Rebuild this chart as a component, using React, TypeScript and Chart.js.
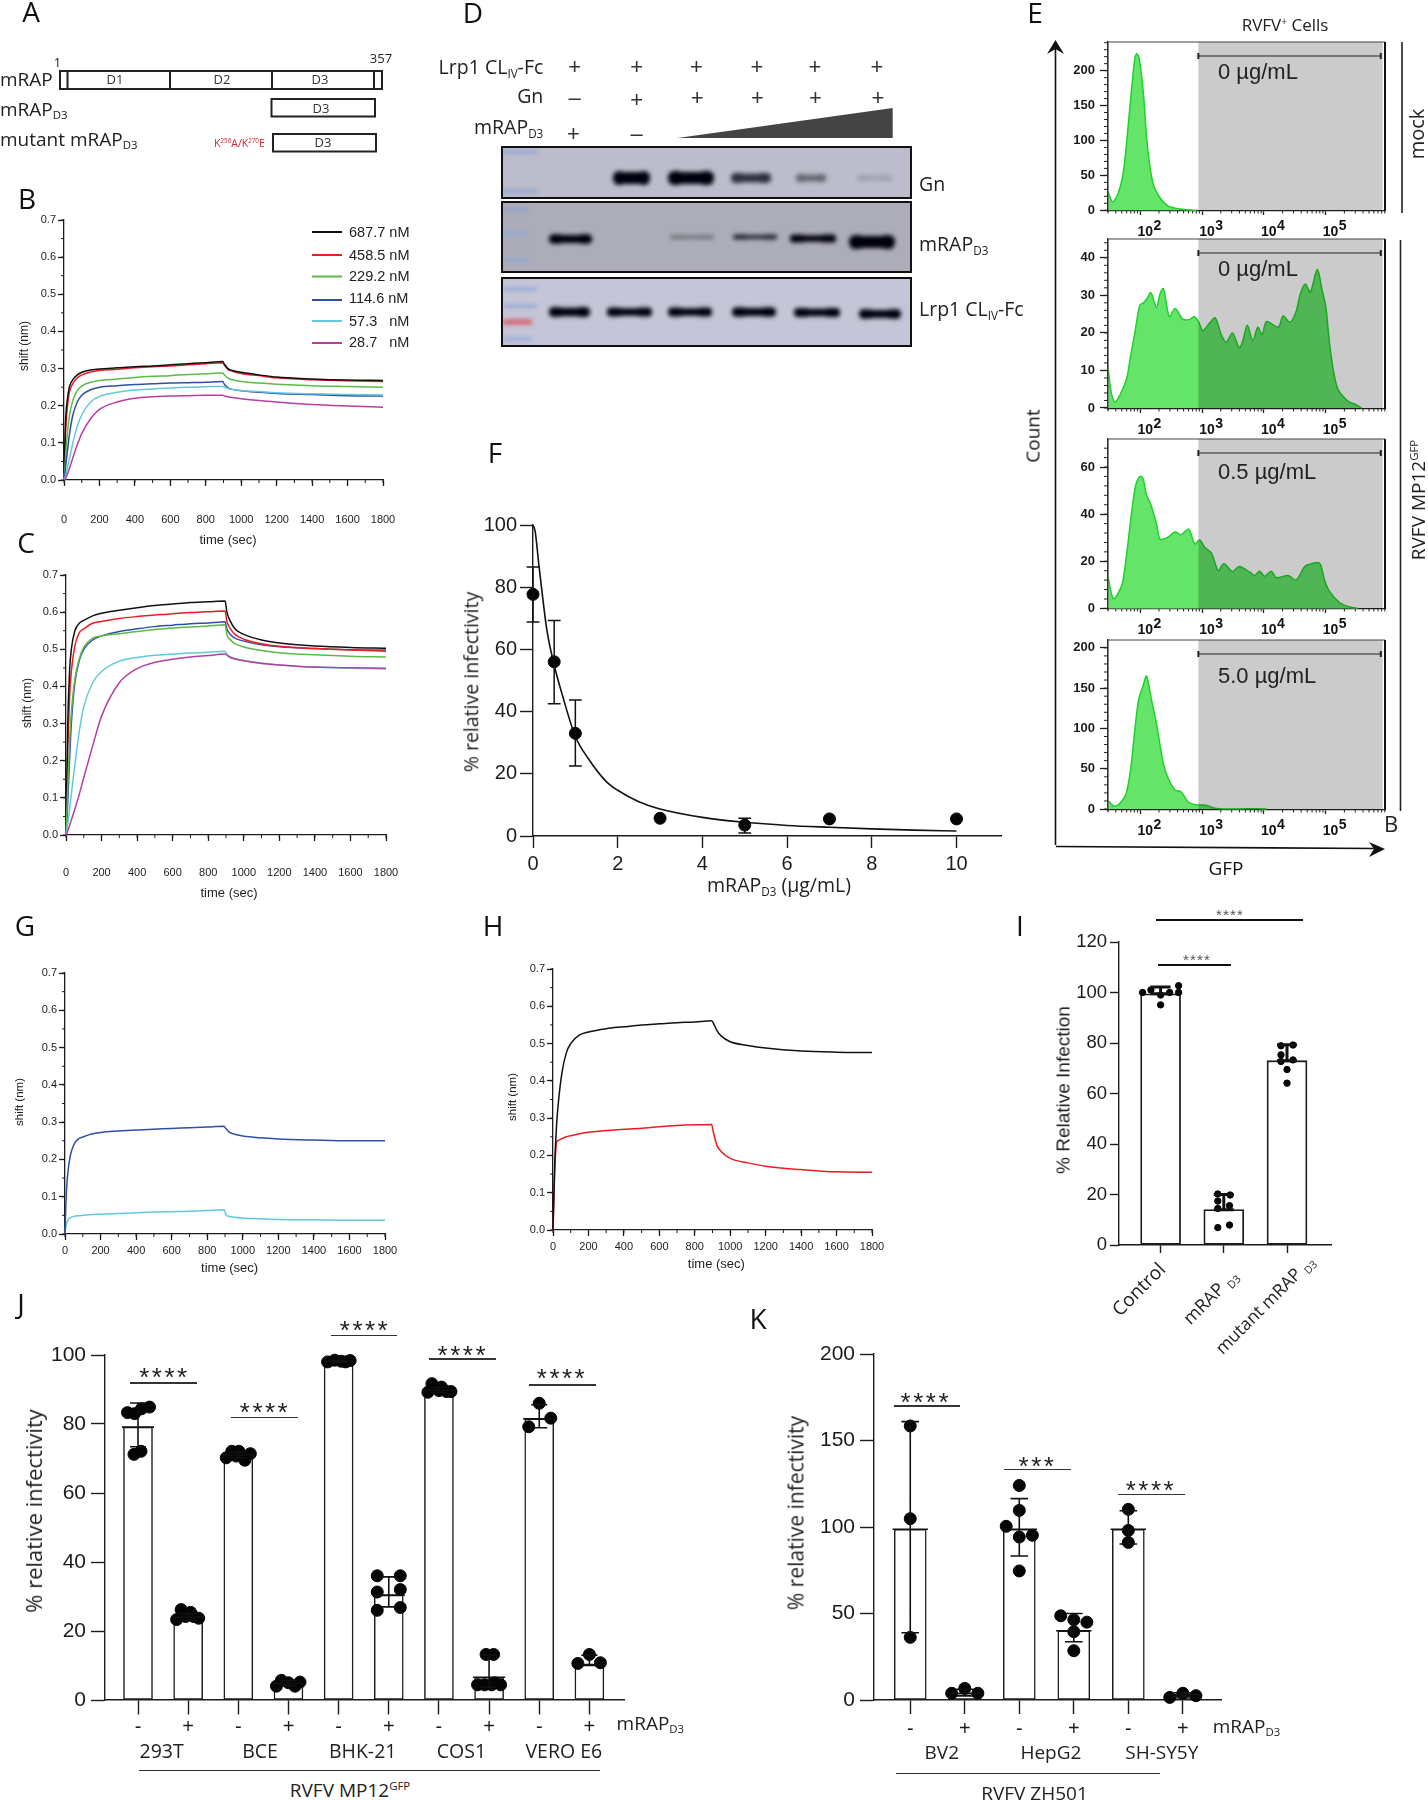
import React, { useEffect, useRef } from "react";
import { Chart, registerables } from "chart.js";

Chart.register(...registerables);

// ---------- DATA ----------
const bliTime = [0, 5, 10, 20, 30, 50, 75, 100, 150, 200, 300, 400, 500, 600, 700, 800, 895, 905, 925, 950, 1000, 1100, 1200, 1400, 1600, 1800];
const bliTicks = [0, 200, 400, 600, 800, 1000, 1200, 1400, 1600, 1800];

const bBlack = [0, .10, .17, .22, .25, .27, .283, .29, .296, .299, .302, .305, .307, .310, .313, .316, .319, .312, .30, .295, .290, .283, .277, .272, .269, .268];
const bRed = [0, .07, .14, .20, .235, .26, .275, .283, .291, .295, .298, .302, .305, .307, .31, .313, .316, .309, .298, .293, .287, .281, .275, .27, .267, .265];
const bGreen = [0, .03, .07, .13, .17, .215, .24, .253, .263, .268, .272, .276, .279, .281, .284, .286, .288, .283, .274, .27, .265, .261, .258, .254, .252, .25];
const bBlue = [0, .015, .04, .08, .12, .175, .21, .228, .243, .25, .254, .257, .259, .261, .262, .263, .265, .258, .248, .244, .24, .236, .233, .23, .227, .226];
const bCyan = [0, .006, .012, .035, .055, .10, .145, .175, .21, .225, .236, .242, .245, .248, .25, .251, .252, .25, .246, .244, .241, .238, .235, .232, .23, .229];
const bMagenta = [0, .001, .005, .017, .03, .06, .095, .125, .165, .19, .21, .22, .224, .226, .227, .228, .228, .226, .224, .222, .219, .214, .21, .203, .199, .196];

const cBlack = [0, .15, .30, .44, .50, .55, .57, .578, .59, .597, .605, .612, .618, .622, .626, .628, .63, .60, .575, .555, .54, .525, .517, .509, .505, .503];
const cRed = [0, .10, .22, .37, .44, .51, .545, .555, .57, .575, .583, .588, .592, .596, .599, .601, .603, .575, .555, .54, .527, .515, .508, .502, .498, .495];
const cBlue = [0, .03, .09, .20, .30, .41, .47, .50, .525, .536, .548, .555, .561, .565, .569, .571, .574, .555, .54, .53, .522, .512, .507, .502, .499, .498];
const cGreen = [0, .06, .13, .25, .33, .42, .475, .505, .53, .536, .542, .548, .553, .557, .56, .563, .566, .54, .525, .515, .506, .497, .491, .485, .481, .479];
const cCyan = [0, .01, .03, .07, .11, .19, .28, .345, .41, .44, .468, .478, .484, .487, .49, .492, .495, .487, .48, .475, .47, .463, .458, .452, .449, .447];
const cMagenta = [0, .005, .012, .025, .04, .07, .11, .155, .24, .32, .41, .448, .465, .473, .479, .483, .487, .484, .478, .474, .469, .462, .458, .452, .45, .449];

const gBlue = [0, .08, .13, .18, .21, .24, .255, .26, .268, .272, .276, .279, .281, .283, .285, .287, .289, .283, .273, .268, .263, .258, .255, .252, .25, .25];
const gCyan = [0, .02, .03, .04, .044, .047, .049, .05, .052, .053, .055, .057, .059, .06, .061, .063, .065, .052, .047, .045, .043, .041, .039, .038, .037, .037];
const hBlack = [0, .10, .18, .28, .34, .42, .475, .50, .523, .531, .54, .545, .55, .553, .556, .558, .561, .555, .535, .52, .505, .495, .488, .48, .477, .476];
const hRed = [0, .08, .16, .235, .24, .245, .25, .253, .258, .262, .267, .27, .273, .277, .28, .282, .283, .262, .227, .21, .192, .18, .171, .162, .156, .155];

const legendLabels = ["687.7 nM", "458.5 nM", "229.2 nM", "114.6 nM", "57.3   nM", "28.7   nM"];

const fDose = [0, 0.5, 1, 3, 5, 7, 10];
const fMean = [77.7, 56, 33, 5.7, 3.5, 5.5, 5.5];
const fLow = [68.8, 42.5, 22.5, 5.7, 1, 5.5, 5.5];
const fHigh = [86.5, 69.3, 43.7, 5.7, 5.7, 5.5, 5.5];
const fCurveX = [0, 0.05, 0.14, 0.2, 0.33, 0.5, 0.7, 1, 1.3, 1.73, 2, 2.5, 3, 4, 5, 6, 7, 8, 9, 10];
const fCurveY = [100, 98, 87, 80, 66, 55, 45, 32, 25, 17.5, 14.7, 11, 8.7, 6, 4.4, 3.4, 2.8, 2.3, 1.9, 1.6];

const e1Log = [1.48, 1.55, 1.64, 1.72, 1.78, 1.84, 1.91, 1.94, 1.98, 2.05, 2.11, 2.2, 2.31, 2.45, 2.64, 2.91];
const e1Count = [26, 12, 24, 52, 100, 157, 218, 224, 218, 166, 95, 40, 19, 6, 2, 0];
const e2Log = [1.48, 1.53, 1.59, 1.67, 1.78, 1.84, 1.91, 1.99, 2.05, 2.11, 2.17, 2.26, 2.32, 2.37, 2.41, 2.47, 2.56, 2.69, 2.8, 2.87, 2.94, 3.01, 3.12, 3.21, 3.31, 3.39, 3.49, 3.6, 3.66, 3.73, 3.82, 3.9, 3.97, 4.04, 4.23, 4.31, 4.42, 4.52, 4.59, 4.67, 4.75, 4.86, 4.94, 5, 5.06, 5.13, 5.2, 5.36, 5.47, 5.58];
const e2Count = [10.2, 4, 1.6, 3.5, 8, 13.7, 20, 27.4, 28, 29.2, 30.7, 26.8, 30.5, 31.8, 28.8, 24.3, 26.5, 23.6, 23.6, 24.3, 23, 20.6, 22.6, 24, 19.5, 17.5, 20, 16, 18, 22, 17.9, 21.5, 19.5, 23, 21.5, 24.5, 22.8, 25.7, 30.5, 33, 30.8, 36.9, 31.4, 27, 17.3, 9.3, 4.9, 1.8, 1, 0];
const e3Log = [1.48, 1.53, 1.57, 1.67, 1.72, 1.78, 1.85, 1.92, 1.99, 2.04, 2.1, 2.16, 2.26, 2.32, 2.45, 2.56, 2.66, 2.78, 2.88, 2.96, 3.04, 3.15, 3.26, 3.35, 3.49, 3.6, 3.77, 3.85, 3.93, 4.01, 4.12, 4.2, 4.39, 4.52, 4.66, 4.77, 4.9, 4.98, 5.06, 5.23, 5.39, 5.52];
const e3Count = [12.9, 6.5, 4, 8, 12, 23.5, 39, 51.8, 56, 55.3, 48, 44.7, 36, 29.4, 30.3, 32.4, 31.3, 33.7, 27.4, 29, 26, 23.5, 16, 19, 15.7, 17.8, 15.4, 14, 15.8, 13.6, 15.8, 13, 14, 12, 17.8, 19, 19.2, 12, 7.2, 2.3, 0.6, 0];
const e4Log = [1.48, 1.57, 1.67, 1.77, 1.84, 1.91, 1.97, 2.04, 2.1, 2.18, 2.26, 2.37, 2.45, 2.56, 2.66, 2.77, 2.91, 3.04, 3.23, 3.55, 3.88, 4.04];
const e4Count = [10.3, 3.7, 7, 19.4, 48, 98, 135, 152, 165, 135, 106, 57, 38, 23.6, 21.5, 9, 5, 5, 0.8, 0, 0.4, 0];

const iMean = [99.5, 14, 73];
const iHigh = [102.2, 20, 79.3];
const iPointX = [-.285, -.153, 0, .143, .285, .285, 0, .905, 1.1, .905, 1.09, .905, 1.09, .905, 1.905, 2.095, 1.905, 1.905, 2.095, 2, 2];
const iPointY = [100, 101, 99, 100, 102.7, 100, 95.1, 20.2, 19.8, 17.4, 15.6, 14.5, 7.9, 6.9, 78.9, 79.2, 75.3, 72.7, 73.3, 69.5, 64.1];

const jTreatments = ["-", "+", "-", "+", "-", "+", "-", "+", "-", "+"];
const jCells = ["293T", "BCE", "BHK-21", "COS1", "VERO E6"];
const jMean = [79.1, 24, 71, 4.8, 98.2, 30.4, 89.8, 6.6, 81.5, 10.3];
const jLow = [73.4, 23.2, 70.2, 4.1, 97.9, 27, 89.2, 3.7, 78.9, 10];
const jHigh = [86.1, 25, 71.9, 5.6, 98.5, 35.7, 90.6, 13, 85.6, 13];
const jPointX = [-.21, -.07, .07, .23, -.08, .06, .77, .86, 1.05, .95, 1.11, 1.21, 1.76, 1.87, 2.01, 2.13, 2.24, 1.96, 2.76, 2.86, 3, 3.13, 3.23, 3.78, 3.92, 4.05, 4.14, 4.23, 4.77, 4.77, 4.77, 5.23, 5.23, 5.23, 5.78, 5.86, 6, 6.05, 6.15, 6.24, 6.94, 7.09, 6.77, 6.91, 7.05, 7.23, 7.11, 8, 8.23, 7.79, 9, 8.77, 9.22];
const jPointY = [83.3, 83, 84.4, 84.9, 71.2, 72.1, 23.3, 26.2, 25.4, 24.2, 24.2, 23.7, 70.2, 72.1, 72.1, 69.5, 71.4, 70.7, 4, 5.7, 5, 4, 5.2, 98, 98.5, 98.2, 98, 98.4, 36, 31.3, 26, 36, 32, 26.8, 89.2, 91.7, 89.7, 90.7, 89.4, 89.4, 13.2, 13.2, 4.4, 4.4, 4.4, 4.4, 5, 86, 81.7, 79.2, 13.2, 10.6, 10.8];

const kTreatments = ["-", "+", "-", "+", "-", "+"];
const kCells = ["BV2", "HepG2", "SH-SY5Y"];
const kMean = [98.7, 3.9, 98.7, 40, 98.7, 3];
const kLow = [38.9, 2.4, 83.2, 33.7, 90.2, 1.8];
const kHigh = [160.9, 6.2, 116.4, 50, 109.4, 4.2];
const kPointX = [0, 0, 0, .76, 1, 1.24, 2, 2, 1.76, 2, 2.24, 2, 2.76, 3, 3.24, 3, 3, 4, 4, 4, 4.76, 5, 5.24];
const kPointY = [158.4, 104.8, 36.2, 3.9, 6.7, 3.9, 124, 109.6, 100.4, 94.2, 95.2, 74.6, 48.7, 46.4, 45, 39.5, 28.5, 110.2, 98, 91.1, 1.5, 3.9, 2.5];

// ---------- helpers ----------
const ARIAL = "'Liberation Sans', Arial, sans-serif";
const OPEN = "'Open Sans', sans-serif";
const INK = "#1c1c1c";
const M = { l: 80, t: 25, r: 42, b: 72 };
const BLI_COLORS = { black: "#111111", red: "#ed1c24", green: "#5cba47", blue: "#2f4fa5", cyan: "#63c8de", magenta: "#b83e9f" };

type Rect = [number, number, number, number];

function axis(o: any) {
  return {
    type: "linear", min: o.min, max: o.max, offset: false,
    grid: { display: true, offset: false, drawOnChartArea: false, drawTicks: true, tickLength: o.tick, tickColor: o.color || INK, tickWidth: o.width || 1.3 },
    border: { display: true, color: o.color || INK, width: o.width || 1.3 },
    ticks: {
      autoSkip: false, maxRotation: 0, minRotation: 0, includeBounds: false,
      stepSize: o.step, padding: o.padding, color: o.textColor || INK,
      font: { family: o.family || ARIAL, size: o.size, weight: o.weight || "normal" },
      callback: o.callback,
    },
    afterBuildTicks: o.values ? (s: any) => { s.ticks = o.values.map((v: number) => ({ value: v })); } : undefined,
  };
}

function minorTicks(xStep: number, yStep: number, len: number) {
  return {
    id: "minorTicks",
    afterDatasetsDraw(c: any) {
      const { ctx, scales: { x, y }, chartArea: a } = c;
      ctx.save();
      ctx.strokeStyle = INK; ctx.lineWidth = 1; ctx.beginPath();
      for (let v = x.min; v <= x.max + 1e-6; v += xStep) { const p = x.getPixelForValue(v); ctx.moveTo(p, a.bottom); ctx.lineTo(p, a.bottom + len); }
      for (let v = y.min; v <= y.max + 1e-6; v += yStep) { const p = y.getPixelForValue(v); ctx.moveTo(a.left, p); ctx.lineTo(a.left - len, p); }
      ctx.stroke(); ctx.restore();
    },
  };
}

function errorBars(xs: number[], lows: number[], highs: number[], means: number[] | null, cap: number, meanHalf: number, width: number) {
  return {
    id: "errorBars",
    afterDatasetsDraw(c: any) {
      const { ctx, scales: { x, y } } = c;
      ctx.save(); ctx.strokeStyle = "#111"; ctx.lineWidth = width; ctx.beginPath();
      xs.forEach((xv, i) => {
        if (lows[i] === highs[i]) return;
        const px = x.getPixelForValue(xv), lo = y.getPixelForValue(lows[i]), hi = y.getPixelForValue(highs[i]);
        ctx.moveTo(px, lo); ctx.lineTo(px, hi);
        ctx.moveTo(px - cap, lo); ctx.lineTo(px + cap, lo);
        ctx.moveTo(px - cap, hi); ctx.lineTo(px + cap, hi);
        if (means && meanHalf) { const m = y.getPixelForValue(means[i]); ctx.moveTo(px - meanHalf, m); ctx.lineTo(px + meanHalf, m); }
      });
      ctx.stroke(); ctx.restore();
    },
  };
}

const GATE_LEFT = 2.938, GATE_RIGHT = 5.92, GATE_END = 5.89;
function flowPlugin(minorStep: number) {
  return {
    id: "flow",
    afterDatasetsDraw(c: any) {
      const { ctx, scales: { x, y }, chartArea: a } = c;
      ctx.save();
      const g1 = x.getPixelForValue(GATE_LEFT), g2 = x.getPixelForValue(GATE_RIGHT), g3 = x.getPixelForValue(GATE_END);
      ctx.globalCompositeOperation = "multiply";
      ctx.fillStyle = "#cbcbcb";
      ctx.fillRect(g1, a.top, g2 - g1, a.bottom - a.top);
      ctx.globalCompositeOperation = "source-over";
      ctx.strokeStyle = "#444"; ctx.lineWidth = 1;
      ctx.beginPath(); ctx.moveTo(a.left, a.top); ctx.lineTo(a.right, a.top); ctx.moveTo(a.left, a.top); ctx.lineTo(a.left, a.bottom); ctx.stroke();
      ctx.strokeStyle = "#111"; ctx.lineWidth = 2;
      ctx.beginPath(); ctx.moveTo(a.right, a.top); ctx.lineTo(a.right, a.bottom); ctx.stroke();
      const gy = a.top + 14;
      ctx.strokeStyle = "#222"; ctx.lineWidth = 1.2; ctx.beginPath();
      ctx.moveTo(g1, gy); ctx.lineTo(g3, gy); ctx.stroke();
      ctx.lineWidth = 2; ctx.beginPath();
      ctx.moveTo(g1, gy - 3); ctx.lineTo(g1, gy + 3); ctx.moveTo(g3, gy - 3); ctx.lineTo(g3, gy + 3); ctx.stroke();
      ctx.strokeStyle = "#222"; ctx.lineWidth = 1; ctx.beginPath();
      for (let v = 0; v <= y.max; v += minorStep) { const p = y.getPixelForValue(v); ctx.moveTo(a.left, p); ctx.lineTo(a.left - 4, p); }
      for (let d = 1; d <= 5; d++) for (let m = 2; m <= 9; m++) {
        const v = d + Math.log10(m);
        if (v < x.min || v > x.max) continue;
        const p = x.getPixelForValue(v); ctx.moveTo(p, a.bottom); ctx.lineTo(p, a.bottom + 2.5);
      }
      ctx.stroke();
      ctx.fillStyle = "#111"; ctx.textAlign = "left"; ctx.textBaseline = "alphabetic";
      ctx.font = `bold 14px ${ARIAL}`;
      [2, 3, 4, 5].forEach((d) => {
        const p = x.getPixelForValue(d);
        ctx.fillText("10", p - 3, a.bottom + 25);
        ctx.fillText(String(d), p + 13, a.bottom + 19);
      });
      ctx.restore();
    },
  };
}

function bliConfig(series: [number[], string][], xPad: number, size = 11) {
  return {
    type: "line",
    data: { datasets: series.map(([vals, col]) => ({ data: bliTime.map((t, i) => ({ x: t, y: vals[i] })), borderColor: col, borderWidth: 1.5, pointRadius: 0, cubicInterpolationMode: "monotone", clip: false })) },
    options: {
      scales: {
        x: axis({ min: 0, max: 1800, tick: 6, padding: xPad, size, values: bliTicks, callback: (v: number) => String(v) }),
        y: axis({ min: 0, max: 0.7, step: 0.1, tick: 6, padding: 2, size, callback: (v: number) => v.toFixed(1) }),
      },
    },
    plugins: [minorTicks(100, 0.05, 3)],
  };
}

function flowConfig(lx: number[], ly: number[], yMin: number, yMax: number, step: number, minor: number) {
  return {
    type: "line",
    data: { datasets: [{ data: lx.map((v, i) => ({ x: v, y: ly[i] })), borderColor: "#1fd22a", borderWidth: 1.5, backgroundColor: "#64e56a", fill: "origin", pointRadius: 0, tension: 0.3 }] },
    options: {
      scales: {
        x: axis({ min: 1.476, max: 5.958, step: 1, tick: 4, padding: 2, size: 10, color: "#222", callback: () => "" }),
        y: axis({ min: yMin, max: yMax, step, tick: 8, padding: 5, size: 13, weight: "bold", color: "#222", callback: (v: number) => String(v) }),
      },
    },
    plugins: [flowPlugin(minor)],
  };
}

function barConfig(o: any) {
  return {
    type: "bar",
    data: {
      datasets: [
        { type: "scatter", order: 0, data: o.px.map((v: number, i: number) => ({ x: v, y: o.py[i] })), backgroundColor: "#050505", borderColor: "#050505", pointRadius: o.r, clip: false },
        { type: "bar", order: 1, data: o.means.map((v: number, i: number) => ({ x: i, y: v })), backgroundColor: "#ffffff", borderColor: "#1c1c1c", borderWidth: o.bw, barThickness: o.barW, borderSkipped: false },
      ],
    },
    options: {
      scales: {
        x: axis({ min: o.xMin, max: o.xMax, tick: o.xTick, padding: o.xPad, size: o.labelSize, family: ARIAL, values: o.means.map((_: number, i: number) => i), width: o.axisW, callback: (_: number, i: number) => (o.labels ? o.labels[i] : "") }),
        y: axis({ min: 0, max: o.yMax, step: o.step, tick: o.yTick, padding: o.yPad, size: o.size, width: o.axisW, callback: (v: number) => String(v) }),
      },
    },
    plugins: [errorBars(o.means.map((_: number, i: number) => i), o.low, o.high, o.meanHalf ? o.means : null, o.cap, o.meanHalf, o.errW)],
  };
}

function fConfig() {
  return {
    type: "scatter",
    data: {
      datasets: [
        { type: "scatter", order: 0, data: fDose.map((v, i) => ({ x: v, y: fMean[i] })), backgroundColor: "#050505", borderColor: "#050505", pointRadius: 6, clip: false },
        { type: "line", order: 1, data: fCurveX.map((v, i) => ({ x: v, y: fCurveY[i] })), borderColor: "#111", borderWidth: 1.6, pointRadius: 0, cubicInterpolationMode: "monotone", clip: false },
      ],
    },
    options: {
      scales: {
        x: axis({ min: 0, max: 11.05, step: 2, tick: 12, padding: 4, size: 20, width: 1.4, callback: (v: number) => String(v) }),
        y: axis({ min: 0, max: 100, step: 20, tick: 13, padding: 3, size: 20, width: 1.4, callback: (v: number) => String(v) }),
      },
    },
    plugins: [errorBars(fDose, fLow, fHigh, null, 6.4, 0, 1.5)],
  };
}

function Plot({ rect, make }: { rect: Rect; make: () => any }) {
  const ref = useRef<HTMLCanvasElement>(null);
  const [l, t, r, b] = rect.map(Math.round);
  const w = r - l + M.l + M.r, h = b - t + M.t + M.b;
  useEffect(() => {
    const cfg = make();
    cfg.options.responsive = false;
    cfg.options.maintainAspectRatio = false;
    cfg.options.animation = false;
    cfg.options.devicePixelRatio = 1;
    cfg.options.layout = { padding: { left: 0, top: M.t, right: M.r, bottom: 0 } };
    cfg.options.plugins = { legend: { display: false }, tooltip: { enabled: false }, title: { display: false } };
    cfg.options.scales.x.afterFit = (s: any) => { s.height = M.b; };
    cfg.options.scales.y.afterFit = (s: any) => { s.width = M.l; };
    const chart = new Chart(ref.current as any, cfg);
    return () => chart.destroy();
  }, []);
  return <canvas ref={ref} width={w} height={h} style={{ position: "absolute", left: l - M.l, top: t - M.t, width: w, height: h, display: "block" }} />;
}

function Lab({ x, y, s = 18, a = "l", rot = 0, c = "#222", f = OPEN, w = 400, ls = 0, children }: any) {
  const tx = a === "l" ? "0" : a === "r" ? "-100%" : "-50%";
  const origin = a === "l" ? "0 50%" : a === "r" ? "100% 50%" : "50% 50%";
  return (
    <div style={{ position: "absolute", left: x, top: y, fontFamily: f, fontSize: s, fontWeight: w, color: c, lineHeight: 1, letterSpacing: ls, whiteSpace: "pre", transformOrigin: origin, transform: `translate(${tx},-50%) rotate(${rot}deg)` }}>
      {children}
    </div>
  );
}
const Sub = ({ children }: any) => <sub style={{ fontSize: "0.6em", verticalAlign: "-0.35em", lineHeight: 0 }}>{children}</sub>;
const Sup = ({ children }: any) => <sup style={{ fontSize: "0.6em", verticalAlign: "0.55em", lineHeight: 0 }}>{children}</sup>;
const Rule = ({ x1, x2, y, t = 1.5, c = "#333" }: any) => <div style={{ position: "absolute", left: x1, top: y - t / 2, width: x2 - x1, height: t, background: c }} />;
const Stars = ({ x, y, n = 4, s = 26, ls = 2.5, c = "#222" }: any) => <Lab x={x} y={y + s * 0.2} s={s} a="c" f={ARIAL} ls={ls} c={c}>{"*".repeat(n)}</Lab>;

function Band({ x1, x2, y, h, o = 1 }: any) {
  const len = x2 - x1, lobe = len * 0.34;
  return (
    <g fill="#04040e" opacity={o}>
      <rect x={x1 + 1} y={y - h * 0.42} width={len - 2} height={h * 0.84} rx={h * 0.35} />
      <rect x={x1} y={y - h / 2} width={lobe} height={h} rx={h * 0.45} />
      <rect x={x2 - lobe} y={y - h / 2} width={lobe} height={h} rx={h * 0.45} />
    </g>
  );
}

function Blot() {
  const lad = (y: number, x2 = 537, col = "#7e9ed2", h = 3) => <rect x={503} y={y - h / 2} width={x2 - 503} height={h} fill={col} opacity={0.8} />;
  return (
    <svg width={1428} height={1800} style={{ position: "absolute", left: 0, top: 0 }}>
      <defs><filter id="bl" x="-20%" y="-60%" width="140%" height="220%"><feGaussianBlur stdDeviation="2" /></filter></defs>
      <rect x={502} y={147} width={409} height={51} fill="#bcbccc" />
      <rect x={502} y={202} width={409} height={70} fill="#adadb9" />
      <rect x={502} y={278} width={409} height={68} fill="#c5c5d8" />
      <g filter="url(#bl)">
        {lad(152)}{lad(191)}{lad(210, 529)}{lad(234, 529, "#8fa9d0", 5)}{lad(260, 529, "#8fa9d0", 5)}
        {lad(289)}{lad(306)}{lad(322, 532, "#d8444f", 5)}{lad(339, 532)}
        <Band x1={613} x2={650} y={178} h={14} />
        <Band x1={668} x2={714} y={178} h={14} />
        <Band x1={731} x2={771} y={178} h={10} o={0.75} />
        <Band x1={796} x2={826} y={178} h={8} o={0.45} />
        <Band x1={857} x2={892} y={178} h={6} o={0.15} />
        <Band x1={549} x2={592} y={239} h={9.5} />
        <Band x1={670} x2={714} y={237} h={4} o={0.35} />
        <Band x1={733} x2={777} y={237} h={5} o={0.8} />
        <Band x1={790} x2={836} y={238.5} h={8} />
        <Band x1={849} x2={895} y={242} h={14} />
        <Band x1={549} x2={590} y={312} h={10} />
        <Band x1={607} x2={652} y={312} h={9} />
        <Band x1={668} x2={712} y={312} h={9} />
        <Band x1={732} x2={776} y={312} h={9.5} />
        <Band x1={794} x2={840} y={312.5} h={9} />
        <Band x1={859} x2={901} y={314} h={9.5} />
      </g>
      <rect x={502} y={147} width={409} height={51} fill="none" stroke="#111" strokeWidth={2} />
      <rect x={502} y={202} width={409} height={70} fill="none" stroke="#111" strokeWidth={2} />
      <rect x={502} y={278} width={409} height={68} fill="none" stroke="#111" strokeWidth={2} />
      <polygon points="677.3,138 892.7,138 892.7,108" fill="#444" />

      {/* panel A */}
      <g fill="none" stroke="#222" strokeWidth={2}>
        <rect x={60} y={71} width={322} height={18} />
        <path d="M67.5 71V89M170 71V89M272 71V89M374 71V89" />
        <rect x={271.5} y={99} width={103.5} height={17.5} />
        <rect x={273} y={134} width={103} height={17.5} />
      </g>

      {/* panel E arrows */}
      <path d="M1055.5 845V46M1056 846.5L1376 848.5" stroke="#111" strokeWidth={1.6} fill="none" />
      <polygon points="1055.5,40 1047,54 1055.5,49 1064,54" fill="#111" />
      <polygon points="1385,849 1369,842 1374,849 1369,857" fill="#111" />
      <path d="M1402 42V213M1400.5 240V811" stroke="#222" strokeWidth={1.6} fill="none" />

      {/* panel B legend keys */}
      <g strokeWidth={2} fill="none">
        <path d="M312 232H342" stroke={BLI_COLORS.black} />
        <path d="M312 255H342" stroke={BLI_COLORS.red} />
        <path d="M312 276.5H342" stroke={BLI_COLORS.green} />
        <path d="M312 300H342" stroke={BLI_COLORS.blue} />
        <path d="M312 321H342" stroke={BLI_COLORS.cyan} />
        <path d="M312 343H342" stroke={BLI_COLORS.magenta} />
      </g>
    </svg>
  );
}

const legendY = [232, 255, 276, 297.5, 320.7, 342];
const plusRows: [number, number, string][] = [
  [574.7, 67, "+"], [636.7, 67, "+"], [696.4, 67, "+"], [756.9, 67, "+"], [815, 67, "+"], [877, 67, "+"],
  [574.7, 98, "–"], [636.7, 100, "+"], [697.2, 98, "+"], [757.5, 98, "+"], [815.5, 98, "+"], [878, 98, "+"],
  [573.5, 134, "+"], [636.7, 134, "–"],
];

export default function App() {
  const black = BLI_COLORS;
  return (
    <div style={{ position: "absolute", left: 0, top: 0, width: 1428, height: 1800, background: "#fff", overflow: "hidden" }}>
      <Blot />

      <Plot rect={[64, 220, 383, 480.4]} make={() => bliConfig([[bMagenta, black.magenta], [bCyan, black.cyan], [bBlue, black.blue], [bGreen, black.green], [bBlack, black.black], [bRed, black.red]], 27)} />
      <Plot rect={[66, 575, 386, 835]} make={() => bliConfig([[cMagenta, black.magenta], [cCyan, black.cyan], [cGreen, black.green], [cBlack, black.black], [cRed, black.red], [cBlue, black.blue]], 25)} />
      <Plot rect={[65.4, 973, 384.6, 1233.5]} make={() => bliConfig([[gBlue, black.blue], [gCyan, black.cyan]], 4)} />
      <Plot rect={[552.8, 969, 872, 1229.5]} make={() => bliConfig([[hBlack, black.black], [hRed, black.red]], 4)} />

      <Plot rect={[533.3, 525, 1001, 836]} make={fConfig} />

      <Plot rect={[1108.3, 41.7, 1385.3, 211]} make={() => flowConfig(e1Log, e1Count, -1, 241, 50, 10)} />
      <Plot rect={[1108.3, 239, 1385.3, 409.3]} make={() => flowConfig(e2Log, e2Count, -0.27, 45, 10, 2)} />
      <Plot rect={[1108.3, 439.3, 1385.3, 609.3]} make={() => flowConfig(e3Log, e3Count, -0.25, 71.9, 20, 4)} />
      <Plot rect={[1108.3, 640, 1385.3, 810]} make={() => flowConfig(e4Log, e4Count, -1.2, 209.7, 50, 10)} />

      <Plot rect={[1118.7, 942.3, 1330.7, 1245]} make={() => barConfig({
        means: iMean, low: iMean, high: iHigh, px: iPointX, py: iPointY, r: 3.2, bw: 1.8, barW: 40, xMin: -0.658, xMax: 2.696,
        xTick: 8, xPad: 2, labelSize: 10, yMax: 120, step: 20, yTick: 9, yPad: 3, size: 18.5, axisW: 1.4, cap: 10, meanHalf: 0, errW: 3,
      })} />
      <Plot rect={[104.7, 1354.5, 623.5, 1700]} make={() => barConfig({
        means: jMean, low: jLow, high: jHigh, px: jPointX, py: jPointY, r: 6, bw: 1.5, barW: 29, xMin: -0.658, xMax: 9.69, labels: jTreatments,
        xTick: 14.5, xPad: 1, labelSize: 20, yMax: 100, step: 20, yTick: 14, yPad: 5, size: 21, axisW: 1.4, cap: 8, meanHalf: 16, errW: 1.6,
      })} />
      <Plot rect={[873.5, 1354, 1220.7, 1700]} make={() => barConfig({
        means: kMean, low: kLow, high: kHigh, px: kPointX, py: kPointY, r: 6, bw: 1.5, barW: 32, xMin: -0.665, xMax: 5.7, labels: kTreatments,
        xTick: 14, xPad: 3, labelSize: 20, yMax: 200, step: 50, yTick: 14, yPad: 5, size: 21, axisW: 1.4, cap: 8.8, meanHalf: 17.7, errW: 1.6,
      })} />

      {/* panel letters */}
      {[["A", 31, 11], ["B", 27, 198], ["C", 26, 542], ["D", 473, 12], ["E", 1035, 12], ["F", 495, 452], ["G", 25, 925], ["H", 493, 925], ["I", 1020, 925], ["J", 21, 1303], ["K", 758, 1318]].map(([t, x, y]) => (
        <Lab key={t as string} x={x} y={y} s={28} a="c" c="#111">{t}</Lab>
      ))}

      {/* panel A */}
      <Lab x={0} y={79} s={19}>mRAP</Lab>
      <Lab x={0} y={109} s={19}>mRAP<Sub>D3</Sub></Lab>
      <Lab x={0} y={139} s={19}>mutant mRAP<Sub>D3</Sub></Lab>
      <Lab x={57.5} y={62} s={13} a="c">1</Lab>
      <Lab x={381} y={58} s={13} a="c">357</Lab>
      <Lab x={115} y={79} s={13} a="c" c="#333">D1</Lab>
      <Lab x={222} y={79} s={13} a="c" c="#333">D2</Lab>
      <Lab x={320} y={79} s={13} a="c" c="#333">D3</Lab>
      <Lab x={321} y={108} s={13} a="c" c="#333">D3</Lab>
      <Lab x={323} y={142} s={13} a="c" c="#333">D3</Lab>
      <Lab x={214} y={143} s={10.5} c="#d4232b">K<Sup>256</Sup>A/K<Sup>270</Sup>E</Lab>

      {/* panel B-C-G-H text */}
      {legendLabels.map((t, i) => <Lab key={t} x={349} y={legendY[i]} s={14.5} f={ARIAL} c="#222">{t}</Lab>)}
      <Lab x={24} y={346} s={12} a="c" rot={-90} f={ARIAL}>shift (nm)</Lab>
      <Lab x={228} y={538.6} s={13} a="c" f={ARIAL}>time (sec)</Lab>
      <Lab x={27} y={703} s={12} a="c" rot={-90} f={ARIAL}>shift (nm)</Lab>
      <Lab x={229} y={892} s={13} a="c" f={ARIAL}>time (sec)</Lab>
      <Lab x={20} y={1102} s={11.5} a="c" rot={-90} f={ARIAL}>shift (nm)</Lab>
      <Lab x={229.6} y={1267} s={13} a="c" f={ARIAL}>time (sec)</Lab>
      <Lab x={512.6} y={1097} s={11.5} a="c" rot={-90} f={ARIAL}>shift (nm)</Lab>
      <Lab x={716.4} y={1263} s={13} a="c" f={ARIAL}>time (sec)</Lab>

      {/* panel D */}
      <Lab x={543.3} y={67} s={19.5} a="r">Lrp1 CL<Sub>IV</Sub>-Fc</Lab>
      <Lab x={543.3} y={96} s={19.5} a="r">Gn</Lab>
      <Lab x={543.3} y={127} s={19.5} a="r">mRAP<Sub>D3</Sub></Lab>
      {plusRows.map(([x, y, t], i) => <Lab key={i} x={x} y={y} s={22} a="c" f={ARIAL} c="#333">{t}</Lab>)}
      <Lab x={919} y={184} s={19.5}>Gn</Lab>
      <Lab x={919} y={244} s={19.5}>mRAP<Sub>D3</Sub></Lab>
      <Lab x={919} y={309} s={19.5}>Lrp1 CL<Sub>IV</Sub>-Fc</Lab>

      {/* panel E */}
      <Lab x={1285} y={24} s={17} a="c">RVFV<Sup>+</Sup> Cells</Lab>
      <Lab x={1218} y={72} s={22} f={ARIAL}>0 µg/mL</Lab>
      <Lab x={1218} y={269} s={22} f={ARIAL}>0 µg/mL</Lab>
      <Lab x={1218} y={472} s={22} f={ARIAL}>0.5 µg/mL</Lab>
      <Lab x={1218} y={676} s={22} f={ARIAL}>5.0 µg/mL</Lab>
      <Lab x={1033} y={436} s={19} a="c" rot={-90} c="#111">Count</Lab>
      <Lab x={1226} y={868} s={19} a="c" c="#111">GFP</Lab>
      <Lab x={1417} y={134} s={20} a="c" rot={-90}>mock</Lab>
      <Lab x={1418} y={500} s={19} a="c" rot={-90}>RVFV MP12<Sup>GFP</Sup></Lab>
      <Lab x={1391} y={823} s={22} a="c">B</Lab>

      {/* panel F */}
      <Lab x={471} y={682} s={19.5} a="c" rot={-90}>% relative infectivity</Lab>
      <Lab x={779} y={885} s={19.5} a="c">mRAP<Sub>D3</Sub> (µg/mL)</Lab>

      {/* panel I */}
      <Lab x={1063} y={1090} s={19} a="c" rot={-90} f={ARIAL}>% Relative Infection</Lab>
      <Lab x={1162} y={1266} s={19} a="r" rot={-45}>Control</Lab>
      <Lab x={1234} y={1272} s={18} a="r" rot={-45}>mRAP <Sub>D3</Sub></Lab>
      <Lab x={1311} y={1258} s={17.5} a="r" rot={-45}>mutant mRAP <Sub>D3</Sub></Lab>
      <Rule x1={1156} x2={1302.7} y={920} t={2} c="#111" />
      <Rule x1={1158} x2={1231} y={964.7} t={2} c="#111" />
      <Stars x={1230} y={911} s={15} ls={1.2} c="#555" />
      <Stars x={1197} y={956} s={15} ls={1.2} c="#555" />

      {/* panel J */}
      <Lab x={33} y={1511} s={22} a="c" rot={-90}>% relative infectivity</Lab>
      <Lab x={616.6} y={1722.7} s={19}>mRAP<Sub>D3</Sub></Lab>
      {jCells.map((t, i) => <Lab key={t} x={[161.6, 260, 362.7, 461.4, 563.8][i]} y={1751.4} s={19.5} a="c">{t}</Lab>)}
      <Rule x1={138.7} x2={600} y={1770.7} />
      <Lab x={350} y={1789.6} s={19} a="c">RVFV MP12<Sup>GFP</Sup></Lab>
      <Rule x1={129.5} x2={196.5} y={1383.2} />
      <Rule x1={231} x2={297.5} y={1417.6} />
      <Rule x1={330.6} x2={396.7} y={1335.5} />
      <Rule x1={429.3} x2={495.9} y={1358.9} />
      <Rule x1={529.4} x2={596} y={1385.2} />
      <Stars x={164.4} y={1371.4} />
      <Stars x={265} y={1406.8} />
      <Stars x={365} y={1325} />
      <Stars x={462.8} y={1349.4} />
      <Stars x={562} y={1373} />

      {/* panel K */}
      <Lab x={796.4} y={1513} s={21} a="c" rot={-90}>% relative infectivity</Lab>
      <Lab x={1212.7} y={1726} s={19}>mRAP<Sub>D3</Sub></Lab>
      {kCells.map((t, i) => <Lab key={t} x={[941.8, 1050.9, 1161.8][i]} y={1752} s={19} a="c">{t}</Lab>)}
      <Rule x1={896.4} x2={1160} y={1773.3} />
      <Lab x={1034.5} y={1793} s={19} a="c">RVFV ZH501</Lab>
      <Rule x1={893.5} x2={960.4} y={1406} />
      <Rule x1={1004.4} x2={1071.3} y={1469.7} />
      <Rule x1={1118.2} x2={1185} y={1494.3} />
      <Stars x={925.8} y={1397} />
      <Stars x={1037.5} y={1461} n={3} />
      <Stars x={1150.9} y={1485} />
    </div>
  );
}
